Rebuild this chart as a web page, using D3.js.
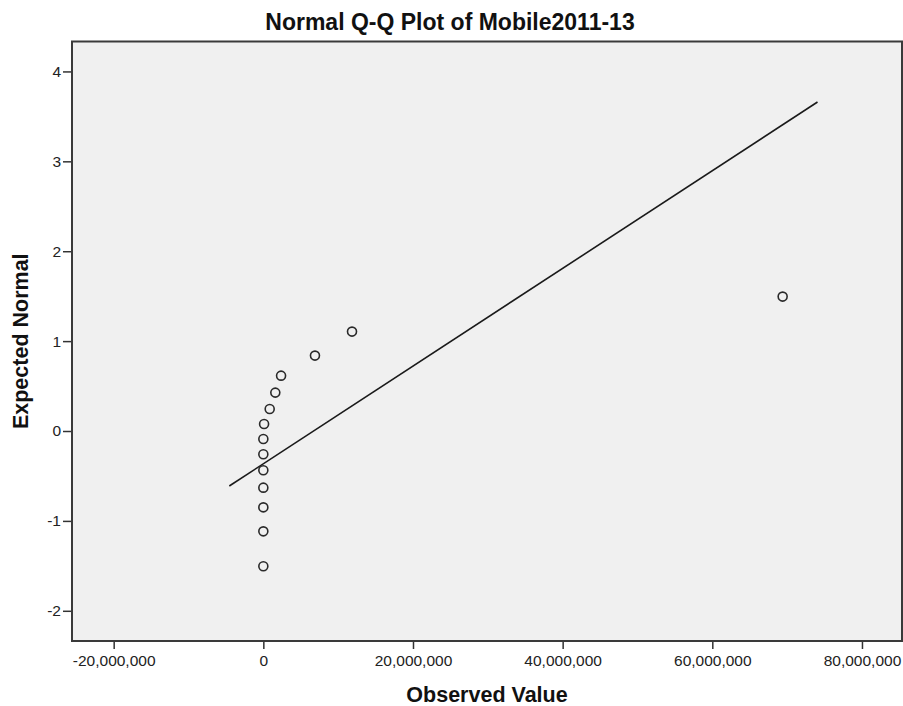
<!DOCTYPE html>
<html lang="en">
<head>
  <meta charset="UTF-8">
  <title>Normal Q-Q Plot of Mobile2011-13</title>
  <style>
    body {
      margin: 0;
      background: #fff;
      font-family: "Liberation Sans", Arial, sans-serif;
    }
    svg { display: block; }
    .tick text { fill: #222; font-size: 15.5px; }
    .tick line { stroke: #333; stroke-width: 1.5px; }
    .domain { display: none; }
    .title, .axis-title { font-weight: bold; fill: #111; }
  </style>
</head>
<body>
  <svg id="chart"></svg>
  <script src="https://d3js.org/d3.v7.min.js"></script>
  <script>
    const observed = [0, 0, 0, 0, 0, 0, 0, 100000, 850000, 1600000, 2370000, 6900000, 11850000, 69400000];
    const expected = [-1.505, -1.116, -0.849, -0.630, -0.437, -0.259, -0.089, 0.078, 0.245, 0.427, 0.616, 0.839, 1.106, 1.495];

    // reference line endpoints
    const lineX = [-4550000, 74060000];
    const lineY = [-0.612, 3.66];

    const xTicks = [-20000000, 0, 20000000, 40000000, 60000000, 80000000];
    const yTicks = [-2, -1, 0, 1, 2, 3, 4];

    const width = 903, height = 706;
    const plot = { left: 72, right: 902, top: 41.5, bottom: 641 };

    const svg = d3.select("#chart").attr("width", width).attr("height", height);

    const x = d3.scaleLinear().domain([-25570000, 85350000]).range([plot.left, plot.right]);
    const y = d3.scaleLinear().domain([-2.336, 4.333]).range([plot.bottom, plot.top]);

    // plot background
    svg.append("rect")
      .attr("x", plot.left).attr("y", plot.top)
      .attr("width", plot.right - plot.left).attr("height", plot.bottom - plot.top)
      .attr("fill", "#f0f0f0");

    // axes (plain hyphen for negatives, like the original)
    const fmt = d3.formatLocale({ decimal: ".", thousands: ",", grouping: [3], currency: ["", ""], minus: "-" }).format(",");
    svg.append("g")
      .attr("transform", `translate(0,${plot.bottom})`)
      .call(d3.axisBottom(x).tickValues(xTicks).tickFormat(fmt).tickSize(8).tickPadding(6));

    svg.append("g")
      .attr("transform", `translate(${plot.left},0)`)
      .call(d3.axisLeft(y).tickValues(yTicks).tickFormat(d => String(d)).tickSize(9).tickPadding(2));

    // frame
    svg.append("rect")
      .attr("x", plot.left).attr("y", plot.top)
      .attr("width", plot.right - plot.left).attr("height", plot.bottom - plot.top)
      .attr("fill", "none")
      .attr("stroke", "#3a3a3a")
      .attr("stroke-width", 2);

    // reference line
    svg.append("line")
      .attr("x1", x(lineX[0])).attr("y1", y(lineY[0]))
      .attr("x2", x(lineX[1])).attr("y2", y(lineY[1]))
      .attr("stroke", "#1a1a1a")
      .attr("stroke-width", 1.6);

    // points
    svg.append("g").selectAll("circle")
      .data(observed.map((v, i) => [v, expected[i]]))
      .join("circle")
        .attr("cx", d => x(d[0]))
        .attr("cy", d => y(d[1]))
        .attr("r", 4.5)
        .attr("fill", "none")
        .attr("stroke", "#2a2a2a")
        .attr("stroke-width", 1.6);

    // titles
    svg.append("text")
      .attr("class", "title")
      .attr("x", 450).attr("y", 30)
      .attr("text-anchor", "middle")
      .style("font-size", "23px")
      .text("Normal Q-Q Plot of Mobile2011-13");

    svg.append("text")
      .attr("class", "axis-title")
      .attr("x", (plot.left + plot.right) / 2).attr("y", 702)
      .attr("text-anchor", "middle")
      .style("font-size", "21.5px")
      .text("Observed Value");

    svg.append("text")
      .attr("class", "axis-title")
      .attr("transform", `translate(28,${(plot.top + plot.bottom) / 2}) rotate(-90)`)
      .attr("text-anchor", "middle")
      .style("font-size", "21.5px")
      .text("Expected Normal");
  </script>
</body>
</html>
